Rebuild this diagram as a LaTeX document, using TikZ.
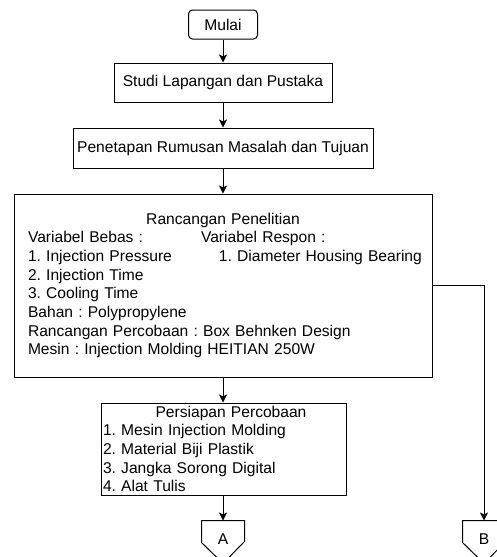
\documentclass[tikz,border=0pt]{standalone}
\usepackage{fontspec}
\setmainfont{Liberation Sans}
\frenchspacing
\hyphenpenalty=10000
\usetikzlibrary{shapes,arrows.meta}
\tikzstyle{terminal} = [rectangle, rounded corners=4pt, minimum width=69pt, minimum height=29pt, text centered, draw=black]
\tikzstyle{process} = [rectangle, minimum height=40pt, text centered, draw=black]
\tikzstyle{connector} = [rectangle, minimum width=42pt, minimum height=42pt, inner sep=0pt, text depth=6pt]
\tikzstyle{arrow} = [->,>={Stealth[length=8pt,width=8pt,inset=2pt]}]

\begin{document}
\begin{tikzpicture}[x=1pt,y=-1pt,line width=1pt,font=\fontsize{15.6}{18.7}\selectfont]
\useasboundingbox (0,0) rectangle (497,557);
\node (mulai) [terminal] at (223,24.5) {Mulai};
\node (studi) [process, minimum width=218pt, minimum height=39pt] at (223,82.5) {Studi Lapangan dan Pustaka};
\node (rumusan) [process, minimum width=300pt] at (223,148) {Penetapan Rumusan Masalah dan Tujuan};
\node (rancangan) [draw, text width=390pt, inner xsep=14pt, inner ysep=0pt, minimum height=183pt, align=left] at (223,285.5)
  {\makebox[390pt][c]{Rancangan Penelitian}\\
   \makebox[173pt][l]{Variabel Bebas :}Variabel Respon :\\
   \makebox[390pt][l]{\makebox[191pt][l]{1. Injection Pressure}1. Diameter Housing Bearing}\\
   2. Injection Time\\
   3. Cooling Time\\
   Bahan : Polypropylene\\
   Rancangan Percobaan : Box Behnken Design\\
   Mesin : Injection Molding HEITIAN 250W};
\node (persiapan) [draw, text width=241pt, inner xsep=2pt, inner ysep=0pt, minimum height=92pt, align=left] at (223.5,449)
  {\makebox[241pt][c]{\hspace{15pt}Persiapan Percobaan}\\
   1. Mesin Injection Molding\\
   2. Material Biji Plastik\\
   3. Jangka Sorong Digital\\
   4. Alat Tulis};
\node (A) [connector] at (223,542) {A};
\node (B) [connector] at (484,542) {B};

% off-page connectors
\draw (A.north west) -- (A.north east) -- ++(0,21) -- (A.south) -- ([yshift=21pt]A.south west) -- cycle;
\draw (B.north west) -- (B.north east) -- ++(0,21) -- (B.south) -- ([yshift=21pt]B.south west) -- cycle;

\draw [arrow] (mulai) -- (studi);
\draw [arrow] (studi) -- (rumusan);
\draw [arrow] (rumusan) -- (rancangan);
\draw [arrow] (rancangan.south) -- (persiapan.north -| rancangan.south);
\draw [arrow] (persiapan.south -| A.north) -- (A.north);
\draw [arrow] (rancangan.east) -| (B.north);
\end{tikzpicture}
\end{document}
